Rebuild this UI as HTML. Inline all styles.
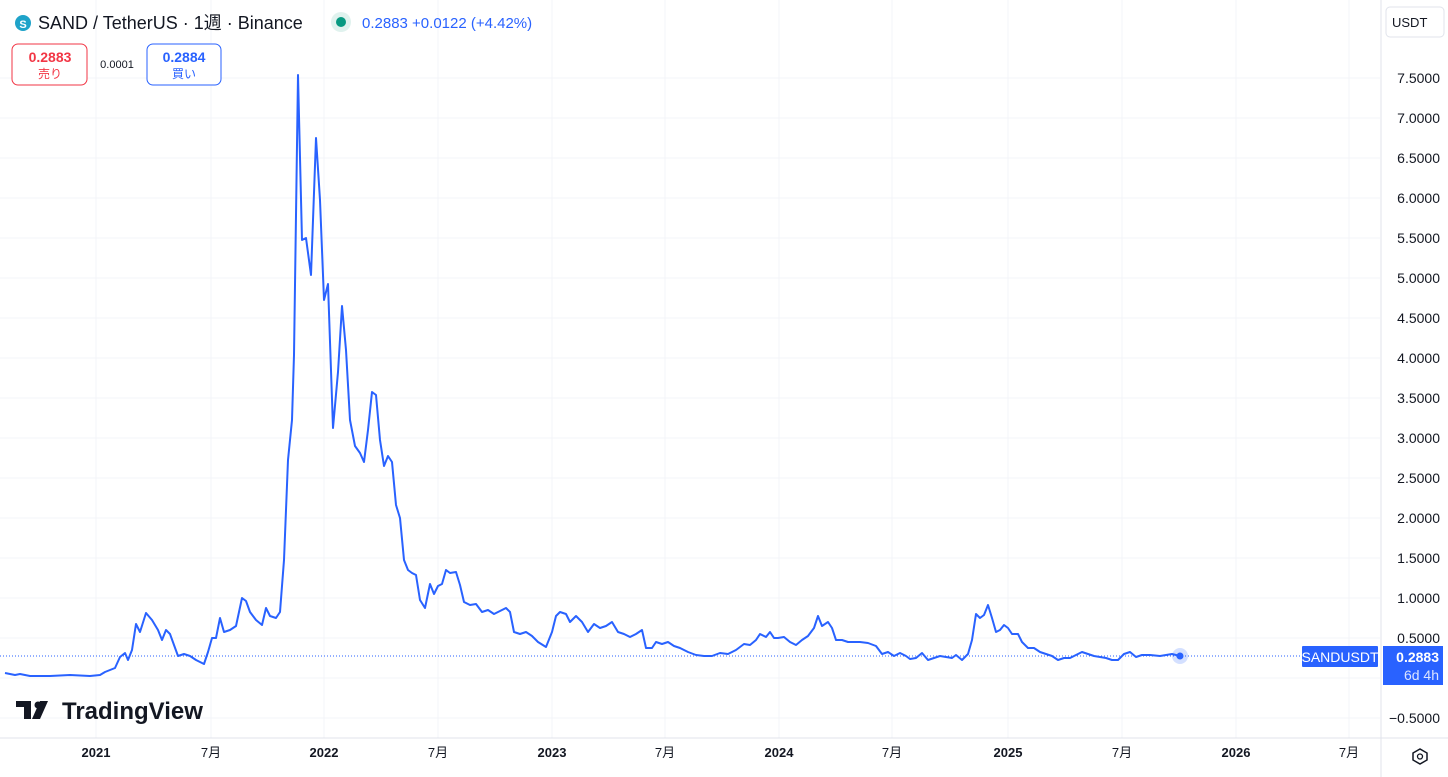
<!DOCTYPE html>
<html><head><meta charset="utf-8"><style>
body{margin:0;width:1448px;height:777px;background:#fff;overflow:hidden;font-family:"Liberation Sans","Noto Sans CJK JP",sans-serif;}
</style></head><body>
<svg width="1448" height="777" xmlns="http://www.w3.org/2000/svg" style="position:absolute;left:0;top:0;font-family:'Liberation Sans','Noto Sans CJK JP',sans-serif">
<g stroke="#f3f4f8" stroke-width="1">
<line x1="0" y1="78" x2="1380" y2="78"/><line x1="0" y1="118" x2="1380" y2="118"/><line x1="0" y1="158" x2="1380" y2="158"/><line x1="0" y1="198" x2="1380" y2="198"/><line x1="0" y1="238" x2="1380" y2="238"/><line x1="0" y1="278" x2="1380" y2="278"/><line x1="0" y1="318" x2="1380" y2="318"/><line x1="0" y1="358" x2="1380" y2="358"/><line x1="0" y1="398" x2="1380" y2="398"/><line x1="0" y1="438" x2="1380" y2="438"/><line x1="0" y1="478" x2="1380" y2="478"/><line x1="0" y1="518" x2="1380" y2="518"/><line x1="0" y1="558" x2="1380" y2="558"/><line x1="0" y1="598" x2="1380" y2="598"/><line x1="0" y1="638" x2="1380" y2="638"/><line x1="0" y1="678" x2="1380" y2="678"/><line x1="0" y1="718" x2="1380" y2="718"/>
<line x1="96" y1="0" x2="96" y2="738"/><line x1="211" y1="0" x2="211" y2="738"/><line x1="324" y1="0" x2="324" y2="738"/><line x1="438" y1="0" x2="438" y2="738"/><line x1="552" y1="0" x2="552" y2="738"/><line x1="665" y1="0" x2="665" y2="738"/><line x1="779" y1="0" x2="779" y2="738"/><line x1="892" y1="0" x2="892" y2="738"/><line x1="1008" y1="0" x2="1008" y2="738"/><line x1="1122" y1="0" x2="1122" y2="738"/><line x1="1236" y1="0" x2="1236" y2="738"/><line x1="1349" y1="0" x2="1349" y2="738"/>
</g>
<line x1="1381" y1="0" x2="1381" y2="777" stroke="#e0e3eb"/>
<line x1="0" y1="738" x2="1448" y2="738" stroke="#e0e3eb"/>
<line x1="0" y1="656" x2="1300" y2="656" stroke="#2962ff" stroke-width="1" stroke-dasharray="1,2"/>
<polyline fill="none" stroke="#2962ff" stroke-width="2" stroke-linejoin="round" points="5,673 15,675 20,674 30,676 50,676 70,675 90,676 100,675 105,672 110,670 115,668 120,657 125,653 128,660 132,650 136,624 140,632 146,613 152,620 158,630 162,640 166,630 170,634 174,645 178,656 184,654 190,656 196,660 204,664 208,652 212,638 216,638 220,618 224,632 230,630 236,626 242,598 246,601 250,612 256,620 262,625 266,608 270,616 276,618 280,612 284,560 288,460 292,420 294,355 298,75 302,240 306,238 311,275 316,138 320,200 324,300 328,284 333,428 338,372 342,306 346,350 350,420 355,446 360,453 364,462 368,430 372,392 376,395 380,440 384,466 388,456 392,462 396,505 400,518 404,560 408,570 412,573 416,575 420,600 425,608 430,584 434,594 438,586 442,584 446,570 450,573 456,572 460,585 464,602 470,605 476,604 482,612 488,610 494,614 500,611 506,608 510,612 514,632 520,634 526,632 532,636 538,642 546,647 552,632 556,616 560,612 566,614 570,622 576,616 582,622 588,632 594,624 600,628 606,626 612,622 618,632 624,634 630,637 636,634 642,630 646,648 652,648 656,642 662,644 668,642 674,646 680,648 688,652 696,655 704,656 712,656 720,653 728,654 736,650 744,644 750,645 756,640 760,634 766,637 770,632 774,638 778,638 784,637 790,642 796,645 802,640 808,636 814,628 818,616 822,626 828,622 832,628 836,640 842,640 848,642 854,642 860,642 868,643 876,646 882,654 888,652 894,656 900,653 906,656 910,659 916,658 922,653 928,660 934,658 940,656 946,657 952,658 956,655 962,660 968,654 972,640 976,614 980,618 984,615 988,605 992,618 996,632 1000,630 1004,625 1008,628 1012,634 1018,634 1022,642 1028,648 1034,648 1040,652 1046,654 1052,656 1058,660 1064,658 1070,658 1076,655 1082,652 1088,654 1094,656 1100,657 1106,658 1112,660 1118,660 1124,654 1130,652 1136,657 1142,655 1150,655 1160,656 1166,655 1172,654 1180,656"/>
<circle cx="1180" cy="656" r="8" fill="#2962ff" fill-opacity="0.2"/>
<circle cx="1180" cy="656" r="3.5" fill="#2962ff"/>
<g font-size="14" fill="#131722" text-anchor="end">
<text x="1440" y="83">7.5000</text><text x="1440" y="123">7.0000</text><text x="1440" y="163">6.5000</text><text x="1440" y="203">6.0000</text><text x="1440" y="243">5.5000</text><text x="1440" y="283">5.0000</text><text x="1440" y="323">4.5000</text><text x="1440" y="363">4.0000</text><text x="1440" y="403">3.5000</text><text x="1440" y="443">3.0000</text><text x="1440" y="483">2.5000</text><text x="1440" y="523">2.0000</text><text x="1440" y="563">1.5000</text><text x="1440" y="603">1.0000</text><text x="1440" y="643">0.5000</text><text x="1440" y="723">−0.5000</text>
</g>
<g font-size="13" fill="#131722" text-anchor="middle">
<text x="96" y="757" font-weight="bold">2021</text><text x="211" y="757">7月</text><text x="324" y="757" font-weight="bold">2022</text><text x="438" y="757">7月</text><text x="552" y="757" font-weight="bold">2023</text><text x="665" y="757">7月</text><text x="779" y="757" font-weight="bold">2024</text><text x="892" y="757">7月</text><text x="1008" y="757" font-weight="bold">2025</text><text x="1122" y="757">7月</text><text x="1236" y="757" font-weight="bold">2026</text><text x="1349" y="757">7月</text>
</g>
<rect x="1302" y="646" width="76" height="21" fill="#2962ff" rx="1"/>
<text x="1340" y="662" font-size="14" fill="#fff" text-anchor="middle">SANDUSDT</text>
<rect x="1383" y="646" width="60" height="39" fill="#2962ff"/>
<text x="1439" y="662" font-size="14" fill="#fff" text-anchor="end" font-weight="bold">0.2883</text>
<text x="1439" y="680" font-size="14" fill="#dbe4ff" text-anchor="end">6d 4h</text>
<rect x="1386" y="7" width="58" height="30" rx="4" fill="#fff" stroke="#e0e3eb"/>
<text x="1392" y="27" font-size="13" fill="#131722">USDT</text>
<polygon points="1413,753 1420,749 1427,753 1427,760 1420,764 1413,760" fill="none" stroke="#131722" stroke-width="1.5"/>
<circle cx="1420" cy="756.5" r="2.5" fill="none" stroke="#131722" stroke-width="1.3"/>
<circle cx="23" cy="23" r="8" fill="#1fa3c9"/>
<text x="23" y="28" font-size="11" fill="#fff" text-anchor="middle" font-weight="bold">S</text>
<text x="38" y="29" font-size="18" fill="#131722">SAND / TetherUS · 1週 · Binance</text>
<circle cx="341" cy="22" r="10" fill="#e0f2ee"/><circle cx="341" cy="22" r="5" fill="#089981"/>
<text x="362" y="28" font-size="15" fill="#2962ff">0.2883  +0.0122 (+4.42%)</text>
<rect x="12" y="44" width="75" height="41" rx="6" fill="#fff" stroke="#f23645"/>
<text x="50" y="62" font-size="14" fill="#f23645" text-anchor="middle" font-weight="bold">0.2883</text>
<text x="50" y="78" font-size="12" fill="#f23645" text-anchor="middle">売り</text>
<text x="117" y="68" font-size="11" fill="#131722" text-anchor="middle">0.0001</text>
<rect x="147" y="44" width="74" height="41" rx="6" fill="#fff" stroke="#2962ff"/>
<text x="184" y="62" font-size="14" fill="#2962ff" text-anchor="middle" font-weight="bold">0.2884</text>
<text x="184" y="78" font-size="12" fill="#2962ff" text-anchor="middle">買い</text>
<path d="M16,701 h15 v18 h-7 v-12 h-8z M40,701 h8 l-8,18 h-8z" fill="#131722"/>
<circle cx="38" cy="705" r="3.5" fill="#131722"/>
<text x="62" y="719" font-size="24" fill="#131722" font-weight="bold">TradingView</text>
</svg>
</body></html>
